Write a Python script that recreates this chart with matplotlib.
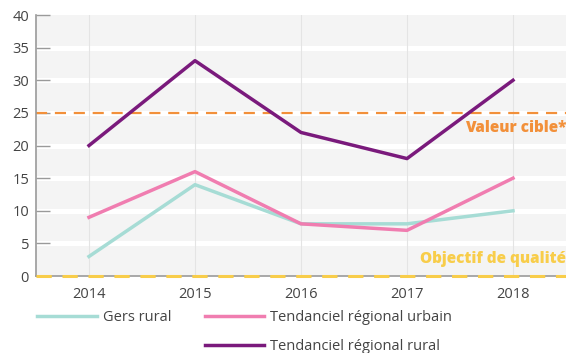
import matplotlib.pyplot as plt
from matplotlib.lines import Line2D

plt.rcParams['font.family'] = ['Open Sans', 'DejaVu Sans']

# --- data ---
years = [2014, 2015, 2016, 2017, 2018]
gers_rural = [3, 14, 8, 8, 10]
regional_urbain = [9, 16, 8, 7, 15]
regional_rural = [20, 33, 22, 18, 30]
valeur_cible = 25
objectif_qualite = 0
yticks = [0, 5, 10, 15, 20, 25, 30, 35, 40]

c_gers = '#a6dcd5'
c_urbain = '#f07db0'
c_rural = '#7a1a7c'
c_cible = '#f2903a'
c_qualite = '#f8cd4a'
txt = '#444444'

fig = plt.figure(figsize=(5.66, 3.53), dpi=100)
ax = fig.add_axes([0.0636, 0.218, 0.9364, 0.7395])
ax.set_facecolor('#f4f4f4')

ax.set_xlim(2013.5, 2018.5)
ax.set_ylim(0, 40)
ax.set_yticks(yticks)
ax.set_xticks(years)

# white horizontal bands + faint vertical year lines
for y in yticks[1:-1]:
    ax.axhline(y, color='white', lw=3.6, zorder=1)
for x in years:
    ax.axvline(x, color='#e4e4e4', lw=0.8, zorder=1)

# reference thresholds
ax.axhline(valeur_cible, color=c_cible, lw=1.6, ls=(0, (5, 3.5)), zorder=2)
ax.axhline(objectif_qualite, color=c_qualite, lw=2.2, ls=(0, (5, 3.5)), zorder=4, clip_on=False)
ax.text(2018.5, valeur_cible - 2.3, 'Valeur cible*', color=c_cible,
        fontsize=11, fontweight='heavy', ha='right', va='center')
ax.text(2018.5, objectif_qualite + 2.6, 'Objectif de qualité', color=c_qualite,
        fontsize=11, fontweight='heavy', ha='right', va='center')

l1, = ax.plot(years, gers_rural, color=c_gers, lw=2.5, zorder=3, label='Gers rural')
l2, = ax.plot(years, regional_urbain, color=c_urbain, lw=2.5, zorder=3,
              label='Tendanciel régional urbain')
l3, = ax.plot(years, regional_rural, color=c_rural, lw=2.5, zorder=3,
              label='Tendanciel régional rural')

for s in ['top', 'right']:
    ax.spines[s].set_visible(False)
ax.spines['left'].set_color('#9a9a9a')
ax.spines['bottom'].set_color('#9a9a9a')
ax.spines['left'].set_linewidth(1.2)
ax.spines['bottom'].set_linewidth(1.2)
ax.tick_params(axis='y', direction='in', length=10, width=1, color='#9a9a9a',
               labelsize=10.5, labelcolor=txt, pad=5)
ax.tick_params(axis='x', length=0, labelsize=10.5, labelcolor=txt, pad=8)

blank = Line2D([], [], color='none')
fig.legend([l1, blank, l2, l3],
           ['Gers rural', '', 'Tendanciel régional urbain', 'Tendanciel régional rural'],
           ncol=2, loc='lower left', bbox_to_anchor=(0.042, -0.04),
           frameon=False, fontsize=10.5, handlelength=4.1, handletextpad=0.4,
           columnspacing=2.3, labelspacing=0.95, labelcolor=txt)

fig.savefig('out.png', dpi=100)
